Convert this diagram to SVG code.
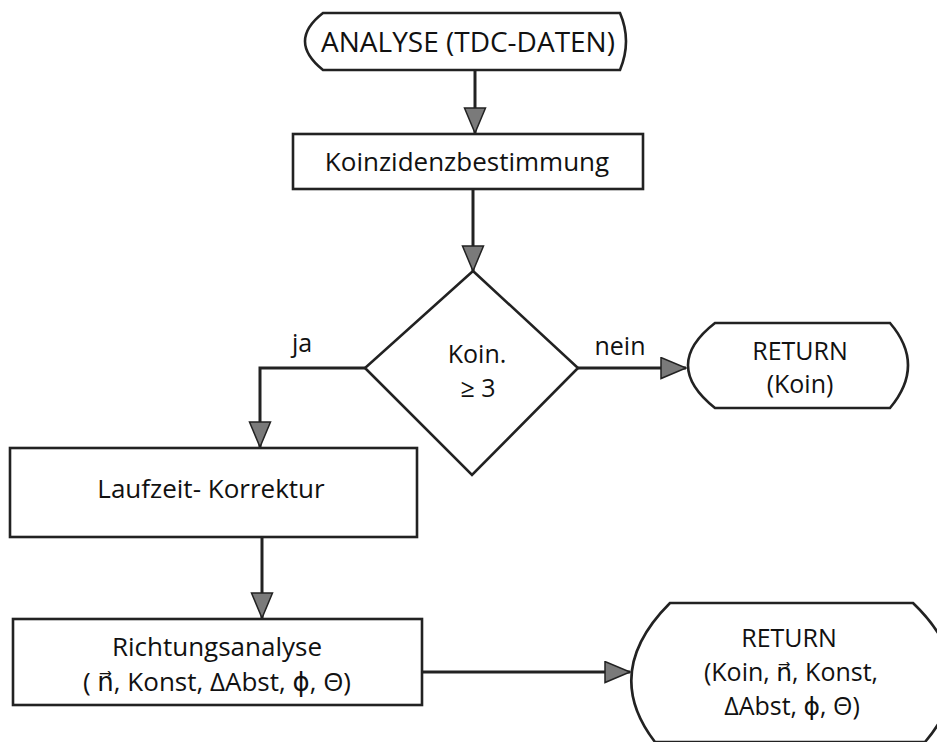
<svg xmlns="http://www.w3.org/2000/svg" width="937" height="742" viewBox="0 0 937 742">
<style>
.shape{fill:#fff;stroke:#222;stroke-width:2.6}
.conn{fill:none;stroke:#222;stroke-width:3}
text{font-family:"Open Sans","DejaVu Sans",sans-serif;font-size:22px;fill:#111;text-anchor:middle}
.big{font-size:28px}
.f25{font-size:25px}
.f26{font-size:26px}
</style>
<defs>
<marker id="ah" markerUnits="userSpaceOnUse" markerWidth="28" markerHeight="24" refX="26" refY="11.5" orient="auto">
<path d="M1,1 L26,11.5 L1,22 Z" fill="#7a7a7a" stroke="#222" stroke-width="1.5"/>
</marker>
</defs>
<rect width="937" height="742" fill="#fff"/>
<g id="connectors">
<path class="conn" d="M475,70 V133" marker-end="url(#ah)"/>
<path class="conn" d="M473,189 V271" marker-end="url(#ah)"/>
<path class="conn" d="M365,368 H260 V447" marker-end="url(#ah)"/>
<path class="conn" d="M578,368 H686" marker-end="url(#ah)"/>
<path class="conn" d="M262,537 V618" marker-end="url(#ah)"/>
<path class="conn" d="M422,672 H630" marker-end="url(#ah)"/>
<text class="f25" x="302" y="352">ja</text>
<text class="f25" x="620" y="355">nein</text>
</g>
<g id="start">
<path class="shape" d="M323,13 H620 Q632,41 620,70 H323 Q287,41 323,13 Z"/>
<text class="big" x="468" y="52">ANALYSE (TDC-DATEN)</text>
</g>
<g id="koinzidenz">
<rect class="shape" x="293" y="134" width="350" height="55"/>
<text class="f26" x="467" y="171">Koinzidenzbestimmung</text>
</g>
<g id="decision">
<polygon class="shape" points="473,271 578,368 472,475 365,368"/>
<text class="f25" x="477" y="363">Koin.</text>
<text class="f25" x="478" y="397">≥ 3</text>
</g>
<g id="return1">
<path class="shape" d="M715,323 H890 Q926,365 890,408 H715 Q661,365 715,323 Z"/>
<text class="f25" x="800" y="360">RETURN</text>
<text class="f25" x="800" y="393">(Koin)</text>
</g>
<g id="laufzeit">
<rect class="shape" x="10" y="448" width="407" height="89"/>
<text class="f26" x="211" y="498">Laufzeit- Korrektur</text>
</g>
<g id="richtung">
<rect class="shape" x="13" y="619" width="409" height="86"/>
<text class="f26" x="217" y="656">Richtungsanalyse</text>
<text class="f26" x="217" y="691">( n⃗, Konst, ΔAbst, ϕ, Θ)</text>
</g>
<g id="return2">
<path class="shape" d="M670,603 H913 Q985,672 925,742 H655 Q601,672 670,603 Z"/>
<text class="f25" x="789" y="647">RETURN</text>
<text class="f25" x="791" y="681">(Koin, n⃗, Konst,</text>
<text class="f25" x="792" y="715">ΔAbst, ϕ, Θ)</text>
</g>
</svg>
